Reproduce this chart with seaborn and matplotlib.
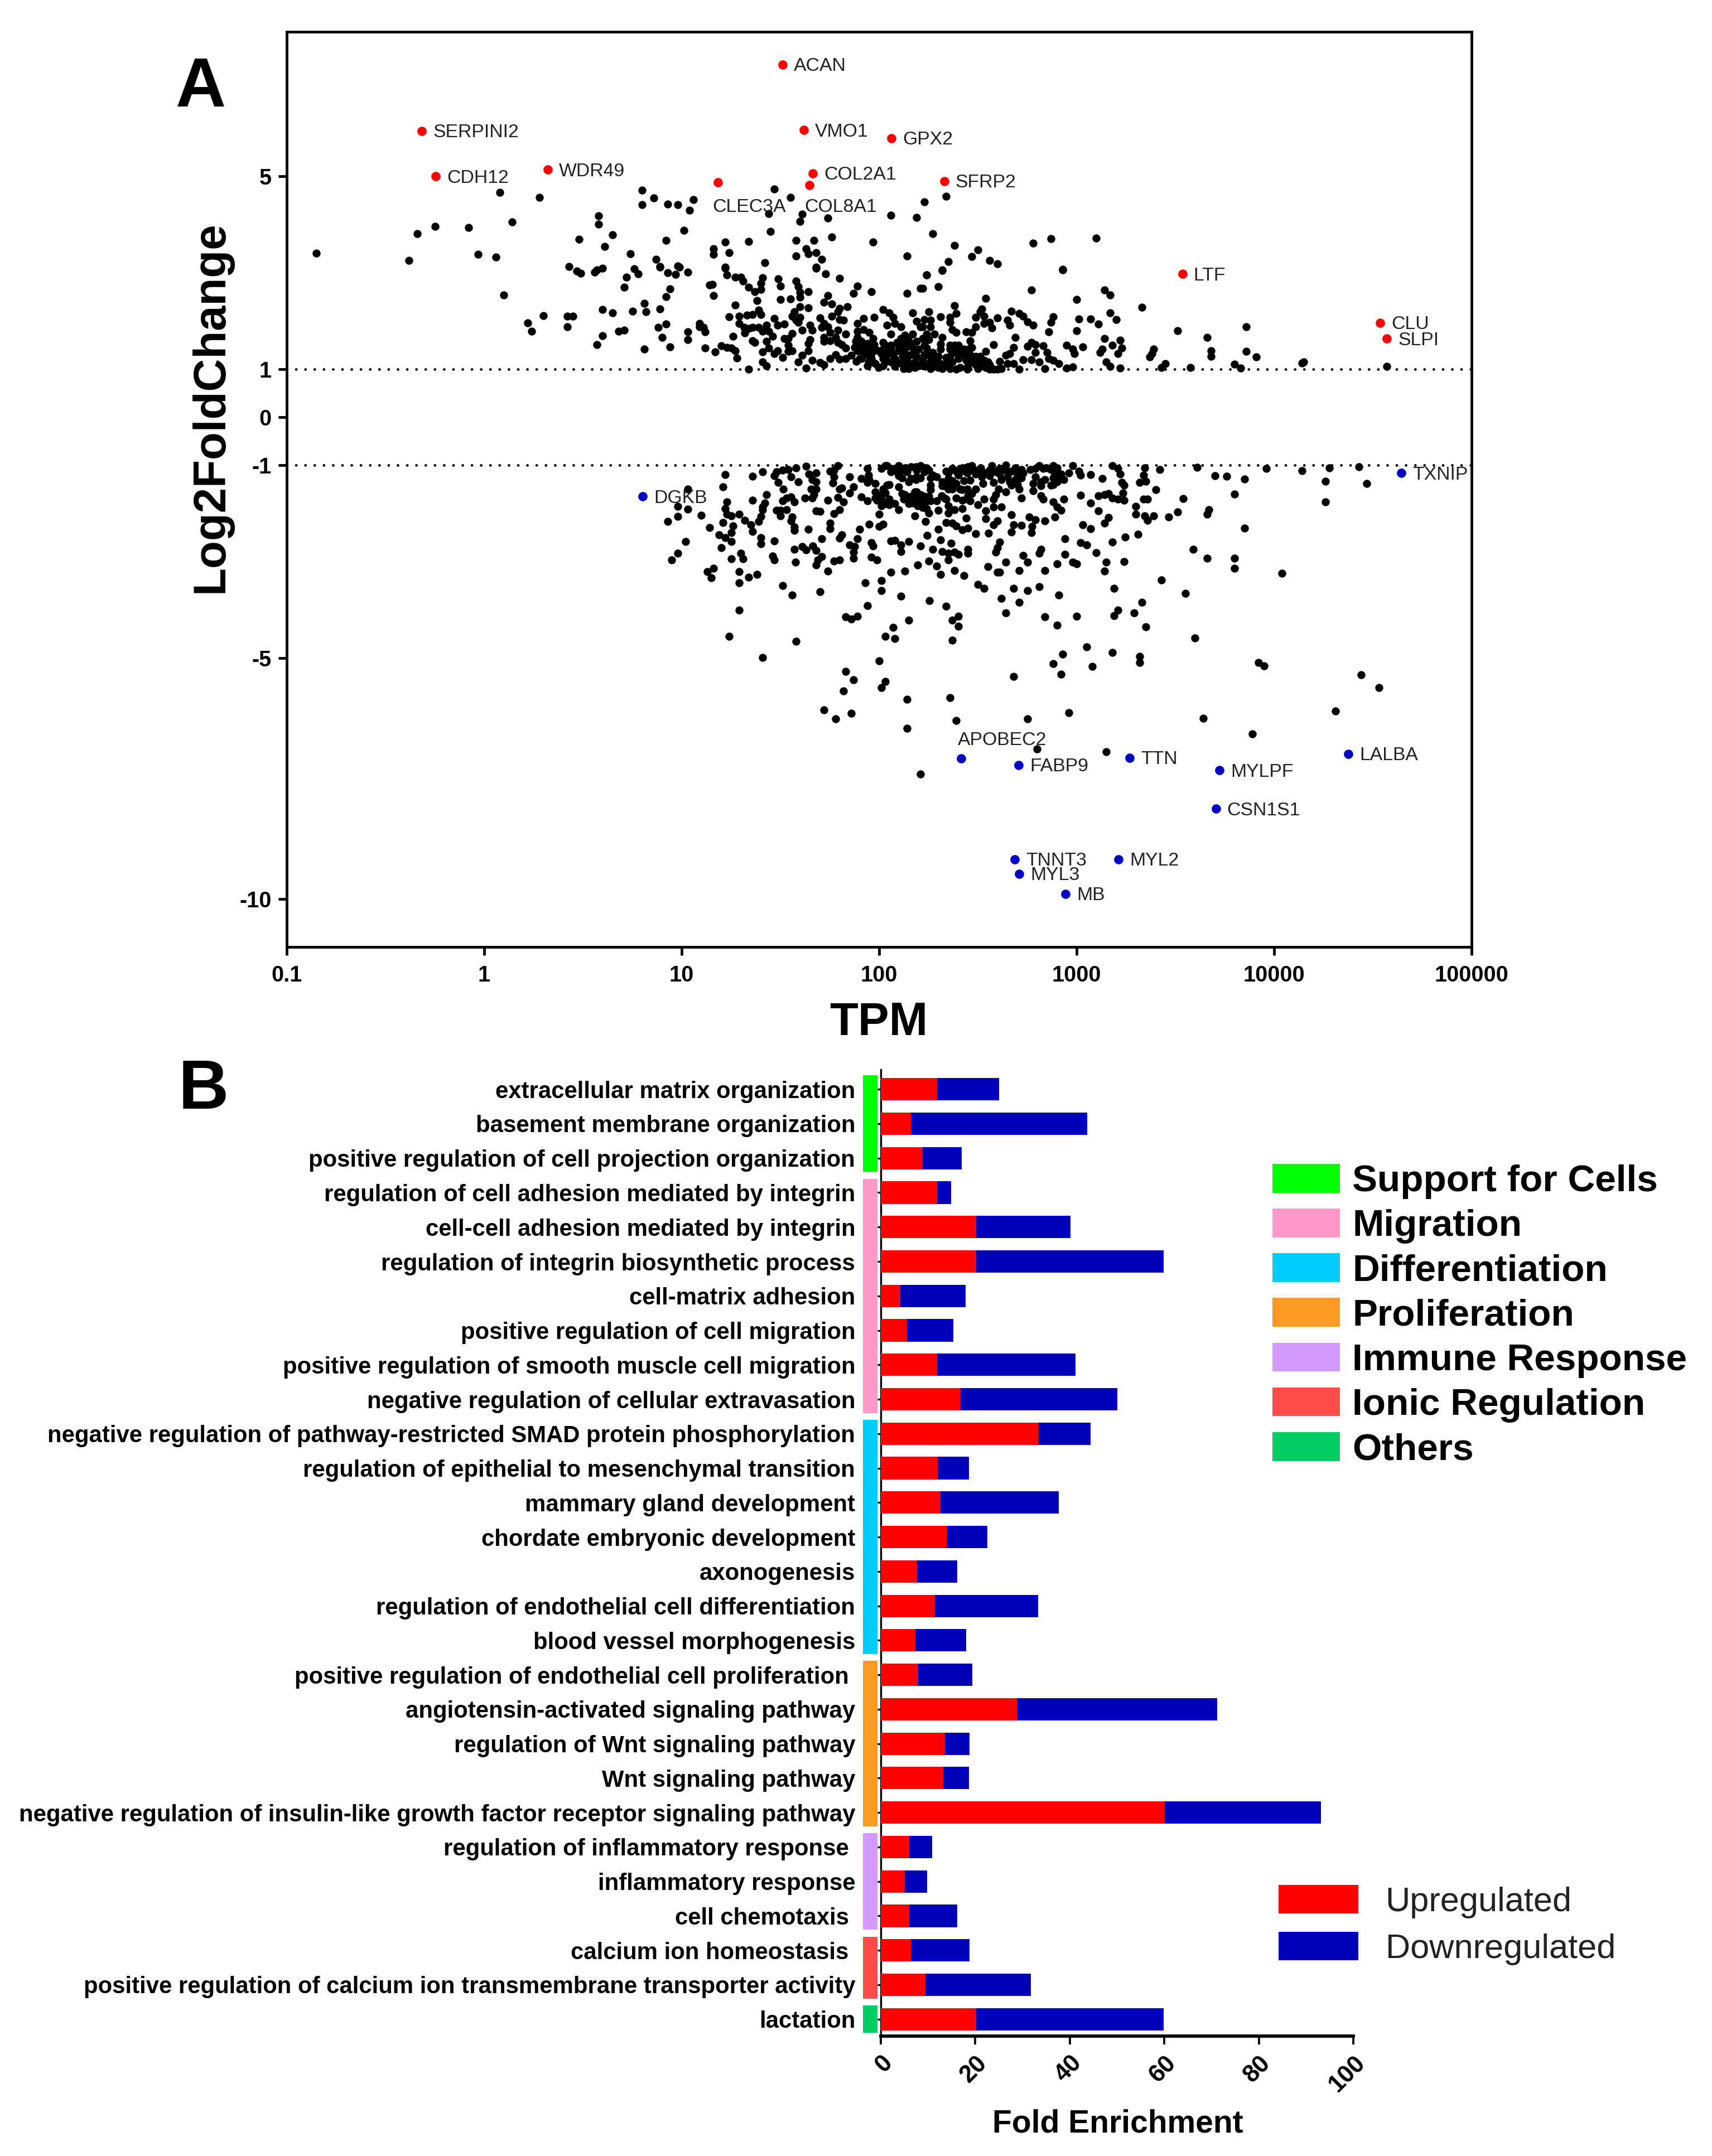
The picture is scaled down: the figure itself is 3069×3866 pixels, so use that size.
import matplotlib
matplotlib.use("Agg")
import matplotlib.pyplot as plt
from matplotlib.patches import Patch
import numpy as np
import pandas as pd
import seaborn as sns

# ---------- Panel A values: (log10 TPM, log2 fold change) ----------
up_sparse = [(-0.85,3.40),(-0.38,3.25),(-0.34,3.81),(-0.25,3.96),(-0.08,3.94),(-0.03,3.38),(0.06,3.32),(0.08,4.66),
(0.14,4.05),(0.28,4.56),(0.10,2.54),(0.22,1.96),(0.30,2.11),(0.24,1.78),(0.42,2.09),(0.45,2.09),(0.42,1.88),(0.58,4.18),
(0.58,4.01),(0.48,3.69),(0.65,3.78),(0.61,3.54),(0.43,3.12),(0.47,3.03),(0.49,2.99),(0.56,3.01),(0.57,3.06),(0.60,3.09),
(0.74,3.39),(0.80,4.71),(0.80,4.41),(0.86,4.55),(0.93,4.42),(0.98,4.41),(1.06,4.52),(1.04,4.30),(1.01,3.88),(0.92,3.67),
(0.60,2.23),(0.65,2.16),(0.75,2.20),(0.57,1.51),(0.60,1.69),(0.68,1.78),(0.71,1.80),(0.71,2.70),(0.72,2.91),(0.76,3.08),(0.78,2.98),
(0.87,3.28),(0.89,3.13),(0.98,3.14),(1.16,3.50),(1.16,3.38),(1.22,3.63),(1.24,3.41),(1.34,3.65),(1.45,3.85),(1.44,4.22),
(1.47,4.74),(1.55,4.56),(1.61,4.21),(1.60,4.06),(1.74,4.13),(1.58,3.67),(1.67,3.67),(1.76,3.74),(1.97,3.63),(2.06,4.19),
(2.19,4.14),(2.23,4.47),(2.34,4.59),(2.27,3.81),(1.63,3.50),(1.64,3.39),(1.68,3.41),(1.58,3.35),(1.71,3.28),(1.42,3.21),
(1.22,3.11),(1.68,3.11),(2.14,3.35),(2.38,3.57),(2.50,3.47),(2.47,3.33),(2.56,3.25),(2.60,3.18),(2.35,3.23),(2.32,3.06),
(2.24,2.95),(2.78,3.61),(2.87,3.71),(3.10,3.72),(2.93,3.07),(3.68,1.38),(3.68,1.26),(3.86,1.36),(3.91,1.25),(3.80,1.10),
(3.83,1.02),(4.15,1.15),(4.14,1.12),(4.57,1.05),(3.66,1.66),(3.86,1.88)]

up_mid = [(0.89,3.11),(0.93,3.00),(0.97,2.96),(0.99,3.11),(1.03,3.01),(1.22,3.09),(1.23,2.95),(1.27,2.91),(1.30,2.90),(1.31,2.82),
(1.34,2.70),(1.41,2.89),(1.40,2.78),(1.40,2.65),(1.37,2.60),(1.49,2.87),(1.50,2.72),(1.58,2.82),(1.59,2.71),(1.60,2.59),
(1.60,2.49),(1.64,2.61),(1.68,3.09),(1.73,2.98),(1.80,2.88),(1.89,2.72),(1.87,2.57),(1.96,2.60),(2.14,2.57),(2.21,2.67),
(0.94,2.66),(0.92,2.50),(1.14,2.74),(1.155,2.76),(1.16,2.52),(0.81,2.36),(0.82,2.19),(0.89,2.25),(1.27,2.33),(1.38,2.42),
(1.50,2.44),(1.55,2.45),(1.74,2.52),(1.72,2.38),(1.76,2.35),(1.24,2.08),(1.29,2.09),(1.33,2.12),(1.36,2.13),(1.39,2.22),
(1.40,2.13),(1.47,2.05),(1.29,1.94),(0.92,1.93),(0.88,1.86),(1.09,1.95),(1.09,1.88),(1.11,1.86),(1.12,1.77),(1.03,1.77),
(1.03,1.61),(0.90,1.66),(1.26,1.68),(0.94,1.46),(0.81,1.41),(1.12,1.43),(1.20,1.48),(1.17,1.35),(1.23,1.45),(1.25,1.43),
(1.27,1.38),(1.28,1.23),(1.315,1.86),(1.34,1.84),(1.36,1.86),(1.39,1.86),(1.41,1.78),(1.43,1.91),(1.32,1.75),(1.44,1.78),
(1.485,1.91),(1.52,1.93),(1.46,1.68),(1.56,1.74),(1.61,1.81),(1.65,1.91),(1.66,1.80),(1.36,1.59),(1.37,1.55),(1.43,1.57),
(1.44,1.43),(1.41,1.35),(1.47,1.32),(1.485,1.38),(1.51,1.24),(1.52,1.63),(1.54,1.63),(1.54,1.49),(1.54,1.36),(1.56,1.38),
(1.60,2.29),(1.57,2.19),(1.56,2.09),(1.58,2.01),(1.60,2.07),(1.59,1.97),(1.64,2.27),(1.70,2.06),(1.72,1.95),(1.71,1.86),
(1.74,1.88),(1.75,1.76),(1.76,2.09),(1.79,1.81),(1.83,1.72),(1.79,2.19),(1.80,2.26),(1.84,2.29),(1.80,2.03),(1.82,2.01),
(1.92,2.05),(1.975,2.07),(1.89,1.95),(1.72,1.66),(1.72,1.57),(1.75,1.59),(1.78,1.65),(1.79,1.55),(1.81,1.51),(1.83,1.43),
(1.65,1.61),(1.64,1.53),(1.64,1.38),(1.61,1.28),(1.59,1.15),(1.66,1.18),(1.70,1.13),(1.72,1.09),(1.75,1.22),(1.78,1.30),
(1.80,1.20),(1.83,1.22),(1.86,1.28),(1.885,1.16),(1.91,1.22),(1.90,1.41),(1.88,1.57),(1.89,1.65),(1.89,1.78),(1.92,1.82),
(1.95,1.76),(1.97,1.63),(1.975,1.51),(1.99,1.39),(1.94,1.53),(1.93,1.30),(1.96,1.22),(1.98,1.11),(1.94,1.07),(1.998,1.03),
(2.02,2.23),(2.05,2.17),(2.07,2.07),(2.08,1.95),(2.04,1.91),(2.11,1.88),(2.06,1.72),(2.02,1.55),(2.03,1.49),(2.06,1.41),
(2.09,1.55),(2.11,1.63),(2.13,1.70),(2.17,1.72),(2.14,1.57),(2.17,1.45),(2.12,1.41),(2.17,2.17),(2.19,1.99),(2.21,1.88),
(2.04,1.30),(2.08,1.22),(2.02,1.22),(2.08,1.05),(2.12,1.14),(2.15,1.11),(2.18,1.30),(2.20,1.07),(2.15,1.01),(1.34,1.00),
(1.43,1.07),(1.41,1.15),(1.63,1.02)]

up_right = [(2.32,3.05),(2.24,2.95),(2.22,2.67),(2.30,2.71),(2.93,3.06),(2.77,2.64),(3.14,2.64),(3.17,2.53),(2.54,2.46),(3.00,2.44),
(3.33,2.28),(3.17,2.17),(3.20,2.02),(2.38,2.31),(2.39,2.15),(2.25,2.19),(2.31,2.08),(2.36,2.07),(2.36,1.97),(2.52,2.24),
(2.51,2.19),(2.49,2.07),(2.53,2.09),(2.53,1.95),(2.56,1.97),(2.57,1.85),(2.49,1.88),(2.60,2.06),(2.67,2.20),(2.71,2.15),
(2.73,2.09),(2.75,1.98),(2.78,1.91),(2.65,2.01),(2.66,1.91),(2.88,2.08),(2.87,1.97),(2.86,1.77),(3.01,2.04),(3.07,2.04),
(3.11,1.93),(3.00,1.79),(3.51,1.79),(3.14,1.63),(3.22,1.60),(3.18,1.49),(3.23,1.43),(3.21,1.32),(3.13,1.41),(3.12,1.34),
(2.95,1.49),(2.98,1.41),(2.99,1.32),(3.03,1.46),(3.39,1.41),(3.38,1.32),(3.37,1.25),(3.45,1.11),(3.43,1.03),(3.575,1.03),
(3.15,1.14),(3.17,1.05),(3.22,1.02),(2.98,1.04),(2.95,1.02),(2.23,2.03),(2.26,2.01),(2.22,1.88),(2.26,1.88),(2.24,1.72),
(2.28,1.72),(2.22,1.63),(2.25,1.61),(2.32,1.65),(2.31,1.52),(2.37,1.82),(2.39,1.76),(2.36,1.49),(2.36,1.41),(2.40,1.49),
(2.44,1.77),(2.47,1.76),(2.46,1.59),(2.46,1.43),(2.47,1.45),(2.24,1.43),(2.27,1.34),(2.24,1.30),(2.22,1.18),(2.26,1.16),
(2.29,1.12),(2.34,1.24),(2.38,1.34),(2.41,1.30),(2.44,1.30),(2.49,1.26),(2.54,1.36),(2.53,1.18),(2.56,1.09),(2.58,1.00),
(2.61,1.16),(2.62,1.01),(2.66,1.32),(2.64,1.28),(2.65,1.11),(2.68,1.11),(2.68,1.45),(2.69,1.65),(2.58,1.50),(2.75,1.47),
(2.77,1.55),(2.79,1.51),(2.79,1.34),(2.81,1.14),(2.73,1.19),(2.77,1.19),(2.83,1.48),(2.85,1.34),(2.86,1.22),(2.88,1.18),
(2.91,1.11),(2.84,1.01),(2.71,1.00),(2.32,1.01),(2.39,1.00),(2.41,1.03),(2.49,1.09),(2.45,1.16),(2.36,1.26),(2.34,1.11),
(2.24,1.07),(2.27,1.07),(2.54,1.03),(2.52,1.14)]

up_dense = [(1.90,1.49),(1.91,1.57),(1.875,1.45),(1.89,1.38),(1.92,1.45),(1.94,1.38),(1.96,1.32),(1.965,1.41),(1.92,1.30),(1.90,1.22),
(2.02,1.41),(2.04,1.45),(2.06,1.49),(2.10,1.47),(2.12,1.53),(2.135,1.63),(2.15,1.59),(2.16,1.49),(2.19,1.57),(2.20,1.41),
(2.135,1.45),(2.10,1.38),(2.07,1.30),(2.03,1.14),(2.06,1.14),(2.135,1.30),(2.16,1.30),(2.19,1.26),(2.14,1.18),(2.12,1.26),
(2.01,1.32),(2.03,1.22),(2.10,1.12),(2.135,1.09),(2.18,1.14),(2.02,1.07),(1.965,1.14),(1.945,1.14),(2.18,1.03),(2.125,1.01),
(2.23,1.49),(2.30,1.26),(2.31,1.41),(2.38,1.49),(2.38,1.41),(2.40,1.41),(2.43,1.41),(2.43,1.30),(2.40,1.22),(2.37,1.14),
(2.44,1.18),(2.46,1.30),(2.47,1.18),(2.51,1.26),(2.50,1.18),(2.55,1.14),(2.52,1.07),(2.45,1.07),(2.31,1.11),(2.27,1.22),
(2.23,1.30),(2.22,1.07),(2.26,1.01),(2.30,1.03),(2.36,1.01),(2.445,1.00),(2.50,1.01),(2.56,1.00),(2.60,1.00)]

down_left = [(1.22,-1.19),(1.36,-1.23),(1.41,-1.14),(1.03,-1.49),(1.21,-1.45),(1.43,-1.61),(1.36,-1.73),(1.23,-1.76),(0.98,-1.85),
(1.03,-1.91),(1.10,-2.04),(0.98,-2.06),(0.93,-2.17),(1.22,-1.90),(1.23,-2.01),(1.25,-2.05),(1.29,-2.02),(1.32,-2.14),(1.35,-2.23),
(1.21,-2.19),(1.26,-2.26),(1.14,-2.29),(1.25,-2.40),(1.19,-2.44),(1.22,-2.50),(1.25,-2.58),(1.36,-2.37),(1.39,-2.17),(1.40,-2.06),
(1.41,-1.92),(1.42,-1.78),(1.41,-1.86),(1.02,-2.58),(1.20,-2.71),(0.98,-2.82),(0.95,-2.96),(1.25,-2.94),(1.30,-2.83),(1.31,-2.94),
(1.46,-2.88),(1.47,-2.96),(1.47,-2.57),(1.40,-2.50),(1.40,-2.63),(1.57,-2.75),(1.61,-2.69),(1.63,-2.76),(1.665,-2.67),(1.68,-2.77),
(1.71,-2.52),(1.575,-3.01),(1.71,-2.90),(1.69,-2.96),(1.68,-3.07),(1.47,-1.22),(1.48,-1.14),(1.51,-1.10),(1.54,-1.09),(1.555,-1.24),
(1.49,-1.36),(1.515,-1.49),(1.59,-1.34),(1.58,-1.06),(1.63,-1.02),(1.645,-1.18),(1.68,-1.16),(1.66,-1.30),(1.68,-1.34),(1.68,-1.49),
(1.655,-1.49),(1.67,-1.61),(1.625,-1.68),(1.66,-1.68),(1.51,-1.74),(1.53,-1.68),(1.555,-1.66),(1.57,-1.76),(1.48,-1.93),(1.50,-1.93),
(1.53,-1.92),(1.50,-2.05),(1.56,-2.07),(1.555,-2.15),(1.57,-2.28),(1.57,-2.35),(1.64,-2.33),(1.68,-1.95),(1.70,-1.96),(1.74,-1.73),
(1.79,-1.67),(1.80,-1.49),(1.82,-1.76),(1.77,-2.00),(1.80,-1.92),(1.75,-2.20),(1.75,-2.32),(1.81,-2.44),(1.80,-2.51),(1.90,-2.33),
(1.95,-2.22),(2.00,-2.27),(2.02,-2.22),(2.00,-2.02),(1.89,-2.52),(1.85,-2.65),(1.875,-2.69),(1.87,-2.80),(1.87,-2.93),(1.96,-2.61),
(1.97,-2.67),(1.96,-2.91),(1.99,-2.96),(1.77,-2.99),(1.80,-2.96),(2.06,-2.57),(1.75,-1.12),(1.77,-1.10),(1.77,-1.24),(1.765,-1.37),
(1.79,-1.01),(1.85,-1.24),(1.81,-1.47),(1.85,-1.57),(1.87,-1.45),(1.91,-1.28),(1.94,-1.07),(1.945,-1.20),(1.94,-1.36),(1.98,-1.38),
(1.91,-1.66),(1.94,-1.74),(1.98,-1.55),(1.98,-1.68),(2.01,-1.84),(2.01,-1.07),(2.03,-1.01),(2.04,-1.41),(2.02,-1.49),(2.06,-1.14),
(2.05,-1.82),(2.01,-1.61)]

down_mid = [(2.10,-1.01),(2.16,-1.03),(2.21,-1.01),(2.24,-1.05),(2.09,-1.14),(2.115,-1.26),(2.15,-1.34),(2.186,-1.30),(2.21,-1.26),
(2.27,-1.20),(2.29,-1.24),(2.34,-1.12),(2.35,-1.16),(2.41,-1.07),(2.40,-1.20),(2.45,-1.03),(2.47,-1.01),(2.515,-1.05),(2.57,-1.01),
(2.64,-1.00),(2.61,-1.07),(2.69,-1.05),(2.72,-1.09),(2.765,-1.09),(2.81,-1.01),(2.88,-1.01),(2.85,-1.05),(2.98,-1.01),(2.96,-1.16),
(2.90,-1.05),(2.92,-1.18),(3.01,-1.12),(3.02,-1.20),(3.07,-1.19),(3.13,-1.28),(3.18,-1.01),(3.21,-1.07),(3.22,-1.18),(3.23,-1.36),
(3.24,-1.41),(3.345,-1.05),(3.34,-1.20),(3.32,-1.35),(3.35,-1.33),(3.42,-1.09),(2.10,-1.45),(2.26,-1.41),(2.26,-1.51),(2.32,-1.43),
(2.36,-1.41),(2.37,-1.32),(2.43,-1.32),(2.46,-1.31),(2.42,-1.51),(2.49,-1.49),(2.47,-1.59),(2.525,-1.38),(2.52,-1.24),(2.49,-1.18),
(2.56,-1.22),(2.58,-1.36),(2.605,-1.49),(2.64,-1.55),(2.67,-1.41),(2.71,-1.49),(2.69,-1.30),(2.72,-1.26),(2.79,-1.24),(2.78,-1.38),
(2.78,-1.53),(2.82,-1.34),(2.84,-1.30),(2.82,-1.43),(2.88,-1.40),(2.91,-1.30),(2.935,-1.30),(2.88,-1.26),(2.115,-1.59),(2.18,-1.55),
(2.22,-1.63),(2.25,-1.65),(2.29,-1.74),(2.125,-1.70),(2.15,-1.80),(2.195,-1.84),(2.24,-1.90),(2.10,-1.92),(2.08,-1.79),(2.18,-2.05),
(2.235,-2.17),(2.25,-1.99),(2.30,-1.93),(2.315,-1.63),(2.34,-1.70),(2.35,-1.84),(2.38,-1.92),(2.42,-1.90),(2.39,-1.68),(2.445,-1.70),
(2.50,-1.82),(2.53,-1.70),(2.35,-1.99),(2.44,-2.10),(2.34,-2.19),(2.37,-2.20),(2.39,-2.26),(2.42,-2.34),(2.45,-2.30),(2.30,-2.33),
(2.244,-2.45),(2.49,-2.42),(2.555,-2.41),(2.54,-1.95),(2.54,-2.11),(2.58,-1.87),(2.62,-1.86),(2.58,-2.24),(2.60,-2.15),(2.59,-1.61),
(2.58,-1.70),(2.72,-1.68),(2.82,-1.63),(2.83,-1.70),(2.88,-1.76),(2.935,-1.70),(2.90,-1.86),(2.92,-1.93),(2.89,-2.07),(2.67,-2.03),
(2.76,-2.07),(2.79,-2.13),(2.84,-2.15),(2.68,-2.23),(2.72,-2.25),(2.775,-2.27),(2.67,-2.39),(2.77,-2.40),(3.02,-1.62),(3.07,-1.78),
(3.11,-1.95),(3.11,-1.63),(3.14,-1.61),(3.16,-1.59),(3.18,-1.68),(3.21,-1.70),(3.24,-1.72),(3.235,-1.57),(3.40,-1.51),(3.34,-1.70),
(3.36,-1.70),(3.30,-1.85),(3.30,-2.02),(3.345,-2.05),(3.36,-2.14),(3.39,-2.05),(3.465,-2.07),(3.14,-2.20),(3.16,-2.09),(3.03,-2.23),
(3.07,-2.32),(3.31,-2.43),(3.245,-2.49),(3.18,-2.59),(2.94,-2.53),(3.02,-2.60),(3.05,-2.65),(3.10,-2.81),(2.94,-2.85),(2.98,-3.01),
(3.00,-3.05),(2.90,-3.05),(3.15,-3.01),(3.24,-3.00),(2.08,-2.56),(2.11,-2.65),(2.15,-2.58),(2.11,-2.79),(2.21,-2.68),(2.27,-2.74),
(2.31,-2.55),(2.365,-2.62),(2.32,-2.79),(2.35,-2.82),(2.38,-2.80),(2.40,-2.85),(2.35,-2.96),(2.45,-2.74),(2.45,-2.82),(2.25,-2.99),
(2.195,-3.07),(2.29,-3.09),(2.61,-2.59),(2.60,-2.71),(2.59,-2.80),(2.73,-2.87),(2.75,-3.01),(2.81,-2.82),(2.82,-2.74),(2.64,-3.01),
(2.55,-3.10)]

down_dense = [(2.08,-1.07),(2.115,-1.10),(2.13,-1.05),(2.186,-1.03),(2.14,-1.14),(2.19,-1.10),(2.23,-1.14),(2.25,-1.10),(2.26,-1.26),
(2.19,-1.24),(2.16,-1.28),(2.10,-1.22),(2.37,-1.07),(2.39,-1.12),(2.43,-1.05),(2.435,-1.12),(2.48,-1.09),(2.51,-1.14),(2.54,-1.16),
(2.56,-1.10),(2.59,-1.14),(2.61,-1.18),(2.64,-1.10),(2.67,-1.12),(2.65,-1.24),(2.70,-1.18),(2.73,-1.16),(2.35,-1.28),(2.32,-1.34),
(2.34,-1.40),(2.35,-1.49),(2.39,-1.38),(2.445,-1.16),(2.46,-1.10),(2.62,-1.30),(2.68,-1.38),(2.66,-1.34),(2.70,-1.40),(2.79,-1.07),
(2.83,-1.07),(2.87,-1.09),(2.89,-1.18),(2.90,-1.34),(2.87,-1.41),(2.19,-1.55),(2.21,-1.61),(2.23,-1.65),(2.16,-1.65),(2.18,-1.70),
(2.21,-1.76),(2.23,-1.80),(2.26,-1.74),(2.17,-1.78),(2.22,-1.88),(2.14,-1.68),(2.13,-1.61),(2.33,-1.43),(2.445,-1.49),(2.45,-1.63),
(2.42,-1.72),(2.46,-1.74),(2.41,-1.49),(2.37,-1.49),(2.33,-1.68),(1.99,-1.72),(2.016,-1.74),(2.035,-1.80),(2.05,-1.70),(2.03,-1.57),
(2.05,-1.40),(2.06,-1.07),(2.04,-1.01),(1.95,-1.30)]

down_sparse = [(1.13,-3.21),(1.16,-3.14),(1.15,-3.33),(1.29,-3.21),(1.29,-3.44),(1.34,-3.32),(1.38,-3.26),(1.51,-3.50),(1.56,-3.69),
(1.70,-3.62),(1.74,-3.20),(1.93,-3.44),(2.01,-3.39),(2.01,-3.60),(2.06,-3.22),(2.13,-3.20),(2.11,-3.72),(2.255,-3.81),(2.34,-3.93),
(1.94,-3.91),(1.89,-4.13),(1.83,-4.15),(1.86,-4.19),(1.29,-4.01),(1.24,-4.55),(1.58,-4.66),(1.41,-4.99),(2.00,-5.06),(2.15,-4.22),
(2.07,-4.37),(2.03,-4.55),(2.08,-4.60),(2.37,-4.21),(2.40,-4.13),(2.40,-4.34),(2.37,-4.63),(1.83,-5.28),(1.87,-5.45),(1.82,-5.68),
(2.03,-5.49),(2.01,-5.62),(2.14,-5.86),(2.36,-5.83),(1.72,-6.08),(1.78,-6.26),(1.86,-6.15),(2.14,-6.46),(2.39,-6.30),(2.21,-7.41),
(2.31,-3.26),(2.38,-3.19),(2.43,-3.29),(2.50,-3.47),(2.53,-3.55),(2.60,-3.22),(2.62,-3.76),(3.61,-1.04),(3.70,-1.22),(3.76,-1.23),
(3.85,-1.29),(3.80,-1.60),(3.96,-1.07),(4.14,-1.11),(4.28,-1.05),(4.26,-1.33),(4.26,-1.76),(4.43,-1.03),(4.47,-1.38),(3.67,-1.92),
(3.66,-2.02),(3.85,-2.30),(3.54,-1.69),(3.51,-1.97),(3.59,-2.75),(3.66,-2.93),(3.80,-2.93),(3.80,-3.14),(4.04,-3.24),(3.43,-3.38),
(3.55,-3.66),(3.19,-3.56),(3.33,-3.85),(3.29,-4.06),(3.21,-4.01),(3.19,-4.12),(3.35,-4.35),(3.60,-4.58),(3.00,-4.13),(2.90,-4.32),
(2.84,-4.15),(2.64,-4.07),(2.71,-3.85),(2.68,-3.56),(2.75,-3.60),(2.81,-3.52),(2.91,-3.69),(3.05,-4.77),(2.93,-4.92),(3.18,-4.89),
(3.08,-5.18),(3.32,-4.97),(3.32,-5.09),(2.88,-5.12),(2.92,-5.34),(2.68,-5.39),(3.92,-5.09),(3.95,-5.17),(4.44,-5.35),(4.53,-5.62),
(4.31,-6.10),(3.64,-6.25),(3.89,-6.58),(2.96,-6.14),(2.75,-6.26),(3.15,-6.95),(2.80,-6.89),(2.61,-3.22),(2.71,-3.18),(2.84,-3.19),
(3.14,-3.20)]

red_genes = ["ACAN","SERPINI2","VMO1","GPX2","CDH12","WDR49","CLEC3A","COL2A1","COL8A1","SFRP2","LTF","CLU","SLPI"]
red_log10_tpm = [1.51,-0.316,1.618,2.063,-0.246,0.321,1.185,1.665,1.648,2.33,3.536,4.537,4.571]
red_lfc = [7.32,5.94,5.96,5.79,5.00,5.14,4.87,5.06,4.82,4.90,2.97,1.96,1.63]

blue_genes = ["DGKB","APOBEC2","FABP9","TTN","MYLPF","LALBA","CSN1S1","TNNT3","MYL2","MYL3","MB","TXNIP"]
blue_log10_tpm = [0.803,2.414,2.706,3.268,3.724,4.375,3.705,2.686,3.212,2.71,2.944,4.645]
blue_lfc = [-1.65,-7.09,-7.22,-7.07,-7.33,-6.99,-8.13,-9.18,-9.18,-9.48,-9.90,-1.16]

x_ticks = [0.1,1,10,100,1000,10000,100000]
x_tick_labels = ["0.1","1","10","100","1000","10000","100000"]
y_ticks = [-10,-5,-1,0,1,5]

# ---------- Panel B values ----------
terms = ["extracellular matrix organization","basement membrane organization","positive regulation of cell projection organization",
"regulation of cell adhesion mediated by integrin","cell-cell adhesion mediated by integrin","regulation of integrin biosynthetic process",
"cell-matrix adhesion","positive regulation of cell migration","positive regulation of smooth muscle cell migration",
"negative regulation of cellular extravasation","negative regulation of pathway-restricted SMAD protein phosphorylation",
"regulation of epithelial to mesenchymal transition","mammary gland development","chordate embryonic development","axonogenesis",
"regulation of endothelial cell differentiation","blood vessel morphogenesis","positive regulation of endothelial cell proliferation ",
"angiotensin-activated signaling pathway","regulation of Wnt signaling pathway","Wnt signaling pathway",
"negative regulation of insulin-like growth factor receptor signaling pathway","regulation of inflammatory response ",
"inflammatory response","cell chemotaxis ","calcium ion homeostasis ",
"positive regulation of calcium ion transmembrane transporter activity","lactation"]
upregulated = [11.9,6.4,8.9,11.9,20.2,20.2,4.1,5.5,11.9,16.9,33.3,12.1,12.6,13.9,7.7,11.5,7.3,7.9,28.8,13.6,13.2,60.1,6.0,5.1,6.0,6.4,9.4,20.2]
stack_total = [25.0,43.7,17.1,14.9,40.1,59.9,17.9,15.3,41.2,50.1,44.4,18.6,37.7,22.6,16.2,33.3,18.1,19.4,71.2,18.8,18.6,93.2,10.9,9.8,16.2,18.8,31.8,59.9]
group_names = ["Support for Cells","Migration","Differentiation","Proliferation","Immune Response","Ionic Regulation","Others"]
group_sizes = [3,7,7,5,3,2,1]
group_colors = ["#00FF00","#FF99CC","#00CCFF","#FF9926","#D699FF","#FF4D4D","#00CC66"]

RED, BLUE = "#FF0000", "#0000BB"
W, H = 3069, 3866
PX = 72 / 300  # points per output pixel

sns.set_theme(style="ticks")
plt.rcParams["font.family"] = ["Liberation Sans", "DejaVu Sans"]
fig = plt.figure(figsize=(W / 300, H / 300), dpi=300)

def frame(l, r, t, b):
    return fig.add_axes([l / W, 1 - b / H, (r - l) / W, (b - t) / H])

# ---------- Panel A ----------
ax = frame(514, 2638, 57, 1698)
black = pd.DataFrame(up_sparse + up_mid + up_right + up_dense + down_left + down_mid + down_dense + down_sparse,
                     columns=["log10_tpm", "lfc"])
black["tpm"] = 10 ** black["log10_tpm"]
reds = pd.DataFrame({"gene": red_genes, "tpm": 10 ** np.array(red_log10_tpm), "lfc": red_lfc})
blues = pd.DataFrame({"gene": blue_genes, "tpm": 10 ** np.array(blue_log10_tpm), "lfc": blue_lfc})

for yy in (1, -1):
    ax.axhline(yy, color="black", lw=1.15, linestyle=(0, (0.01, 3.45)), dash_capstyle="round", zorder=1)
sns.scatterplot(data=black, x="tpm", y="lfc", color="black", s=12, linewidth=0, ax=ax, zorder=3)
sns.scatterplot(data=reds, x="tpm", y="lfc", color=RED, s=16, linewidth=0, ax=ax, zorder=4)
sns.scatterplot(data=blues, x="tpm", y="lfc", color="#0000C0", s=16, linewidth=0, ax=ax, zorder=4)
ax.set_xscale("log")
ax.set_xlim(0.1, 100000)
ax.set_ylim(-11, 8)
ax.set_xticks(x_ticks)
ax.set_xticklabels(x_tick_labels, fontweight="bold", fontsize=9.5)
ax.minorticks_off()
ax.set_yticks(y_ticks)
ax.set_yticklabels([str(v) for v in y_ticks], fontweight="bold", fontsize=9.5)
ax.tick_params(length=3.6, width=1.15, color="black", labelcolor="black", pad=3)
ax.tick_params(axis="x", pad=4.2)
for s in ax.spines.values():
    s.set_linewidth(1.15)
    s.set_color("black")
ax.set_xlabel("")
ax.set_ylabel("")
fig.text(1575 / W, 1 - 1834 / H, "TPM", fontsize=20, fontweight="bold", ha="center", va="center", color="black")
fig.text(379 / W, 1 - 730 / H, "Log2FoldChange", fontsize=19.6, fontweight="bold", rotation=90, ha="center", va="center", color="black")

special_offsets = {"CLEC3A": (-10, -44), "COL8A1": (-9, -40), "APOBEC2": (-6, 33)}
for frame_df in (reds, blues):
    for _, row in frame_df.iterrows():
        dx, dy = special_offsets.get(row["gene"], (20, -3))
        ax.annotate(row["gene"], (row["tpm"], row["lfc"]), xytext=(dx * PX, dy * PX), textcoords="offset points",
                    fontsize=8.1, color="#222222", ha="left", va="center", zorder=5, annotation_clip=False)

fig.text(315 / W, 1 - 191 / H, "A", fontsize=30, fontweight="bold", color="black", ha="left", va="baseline")
fig.text(320 / W, 1 - 1988 / H, "B", fontsize=30, fontweight="bold", color="black", ha="left", va="baseline")

# ---------- Panel B ----------
bx = frame(1579, 2426, 1918, 3651)
bars = pd.DataFrame({"term": terms, "up": upregulated, "total": stack_total})
sns.barplot(data=bars, y="term", x="total", color=BLUE, width=0.65, saturation=1, linewidth=0, ax=bx, zorder=2)
sns.barplot(data=bars, y="term", x="up", color=RED, width=0.65, saturation=1, linewidth=0, ax=bx, zorder=3)
bx.set_xlim(0, 100)
bx.set_ylim(27.49, -0.57)
bx.set_xlabel("")
bx.set_ylabel("")
sns.despine(ax=bx)
bx.spines["left"].set_linewidth(0.8)
bx.spines["left"].set_color("black")
bx.spines["bottom"].set_linewidth(1.4)
bx.spines["bottom"].set_color("black")
bx.tick_params(axis="y", length=1.5, width=0.8, pad=9.5, labelsize=10.05, color="black", labelcolor="black")
bx.tick_params(axis="x", length=3.6, width=0.9, pad=3, color="black", labelcolor="black")
for lab in bx.get_yticklabels():
    lab.set_fontweight("bold")
bx.set_xticks(range(0, 101, 20))
bx.set_xticklabels([str(v) for v in range(0, 101, 20)], rotation=45, ha="right", rotation_mode="anchor",
                   fontweight="bold", fontsize=10.5)
fig.text(2004 / W, 1 - 3808 / H, "Fold Enrichment", fontsize=13.7, fontweight="bold", ha="center", va="center", color="black")

start = 0
for size, colour in zip(group_sizes, group_colors):
    bx.barh(start + (size - 1) / 2, 3.1, left=-3.8, height=size - 0.2, color=colour, linewidth=0, clip_on=False, zorder=1)
    start += size

group_handles = [Patch(facecolor=c, edgecolor="none") for c in group_colors]
leg1 = fig.legend(group_handles, group_names, loc="upper left", bbox_to_anchor=(2281 / W, 1 - 2087 / H), frameon=False,
                  borderpad=0, borderaxespad=0, handlelength=1.79, handleheight=0.8, handletextpad=0.33,
                  labelspacing=0.25, prop={"weight": "bold", "size": 16.2})
for t in leg1.get_texts():
    t.set_color("black")
leg2 = fig.legend([Patch(facecolor=RED, edgecolor="none"), Patch(facecolor=BLUE, edgecolor="none")], ["Upregulated", "Downregulated"],
                  loc="upper left", bbox_to_anchor=(2292 / W, 1 - 3380 / H), frameon=False, fontsize=14.7, borderpad=0,
                  borderaxespad=0, handlelength=2.34, handleheight=0.9, handletextpad=0.79, labelspacing=0.40)
for t in leg2.get_texts():
    t.set_color("#222222")

fig.savefig("out.png", dpi=300, facecolor="white")
